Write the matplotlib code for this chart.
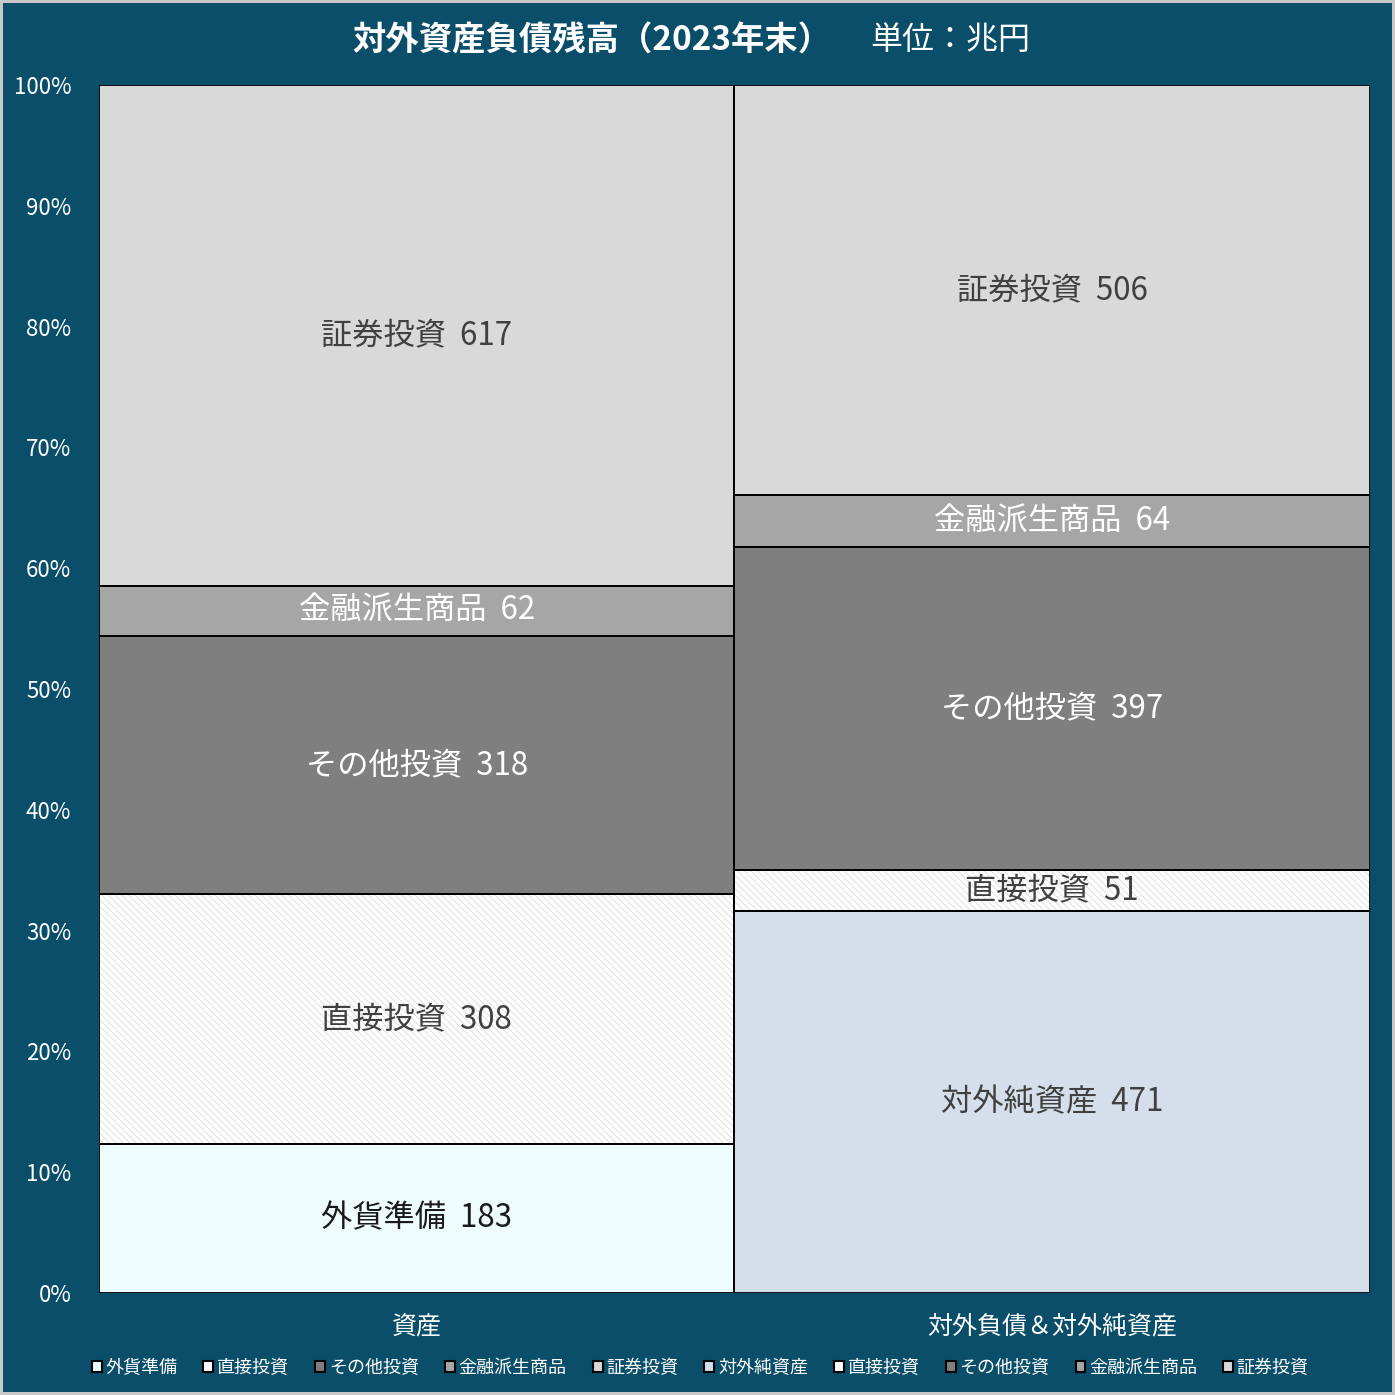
import matplotlib
matplotlib.use("Agg")
import matplotlib.pyplot as plt
from matplotlib.patches import Patch
from matplotlib.ticker import FuncFormatter

plt.rcParams["font.family"] = ["Noto Sans CJK JP", "DejaVu Sans"]
plt.rcParams["hatch.linewidth"] = 0.6

# データ（単位：兆円）
categories = ["資産", "対外負債＆対外純資産"]
asset_labels = ["外貨準備", "直接投資", "その他投資", "金融派生商品", "証券投資"]
asset_values = [183, 308, 318, 62, 617]
liab_labels = ["対外純資産", "直接投資", "その他投資", "金融派生商品", "証券投資"]
liab_values = [471, 51, 397, 64, 506]

BG = "#0A4E69"
asset_colors = ["#EFFCFD", "#FFFFFF", "#7F7F7F", "#A6A6A6", "#D9D9D9"]
liab_colors = ["#D5DFEC", "#FFFFFF", "#7F7F7F", "#A6A6A6", "#D9D9D9"]
asset_hatch = [None, "\\\\\\\\\\", None, None, None]
liab_hatch = [None, "\\\\\\\\\\", None, None, None]
asset_txt = ["#1A1A1A", "#404040", "white", "white", "#404040"]
liab_txt = ["#404040", "#404040", "white", "white", "#404040"]

fig = plt.figure(figsize=(13.95, 13.95), dpi=100, facecolor=BG,
                 edgecolor="#C8C8C8", linewidth=3)
ax = fig.add_axes([0.071, 0.0731, 0.911, 0.866])
ax.set_facecolor(BG)


def draw_stack(x, labels, values, colors, hatches, txtcols):
    total = sum(values)
    bottom = 0.0
    for lab, v, c, h, tc in zip(labels, values, colors, hatches, txtcols):
        pct = v / total * 100
        if h:
            ax.bar(x, pct, bottom=bottom, width=1.0, color=c, hatch=h,
                   edgecolor="#DADADA", linewidth=0, zorder=2)
        else:
            ax.bar(x, pct, bottom=bottom, width=1.0, color=c, linewidth=0, zorder=2)
        ax.bar(x, pct, bottom=bottom, width=1.0, fill=False,
               edgecolor="black", linewidth=1.3, zorder=3)
        ax.text(x, bottom + pct / 2, f"{lab}  {v}", ha="center", va="center",
                fontsize=22.5, color=tc, zorder=4)
        bottom += pct


draw_stack(0, asset_labels, asset_values, asset_colors, asset_hatch, asset_txt)
draw_stack(1, liab_labels, liab_values, liab_colors, liab_hatch, liab_txt)

ax.set_xlim(-0.5, 1.5)
ax.set_ylim(0, 100)
ax.set_yticks(range(0, 101, 10))
ax.yaxis.set_major_formatter(FuncFormatter(lambda v, p: f"{int(v)}%"))
ax.set_xticks([0, 1])
ax.set_xticklabels(categories)
ax.tick_params(axis="y", length=0, colors="white", labelsize=16, pad=20)
ax.tick_params(axis="x", length=0, colors="white", labelsize=18, pad=15)
for s in ax.spines.values():
    s.set_visible(False)

fig.text(0.596, 0.971, "対外資産負債残高（2023年末）", ha="right", va="center",
         fontsize=24, fontweight="bold", color="white")
fig.text(0.624, 0.971, "単位：兆円", ha="left", va="center",
         fontsize=23, color="white")

handles = []
for lab, c, h in zip(asset_labels + liab_labels, asset_colors + liab_colors,
                     asset_hatch + liab_hatch):
    handles.append(Patch(facecolor=c, edgecolor="black", linewidth=1.5, label=lab))
fig.legend(handles=handles, loc="center", bbox_to_anchor=(0.502, 0.0195), ncol=10,
           frameon=False, handlelength=0.55, handleheight=0.55, handletextpad=0.2,
           columnspacing=1.45, fontsize=13, labelcolor="white")

fig.savefig("out.png", dpi=100, facecolor=BG, edgecolor="#C8C8C8")
